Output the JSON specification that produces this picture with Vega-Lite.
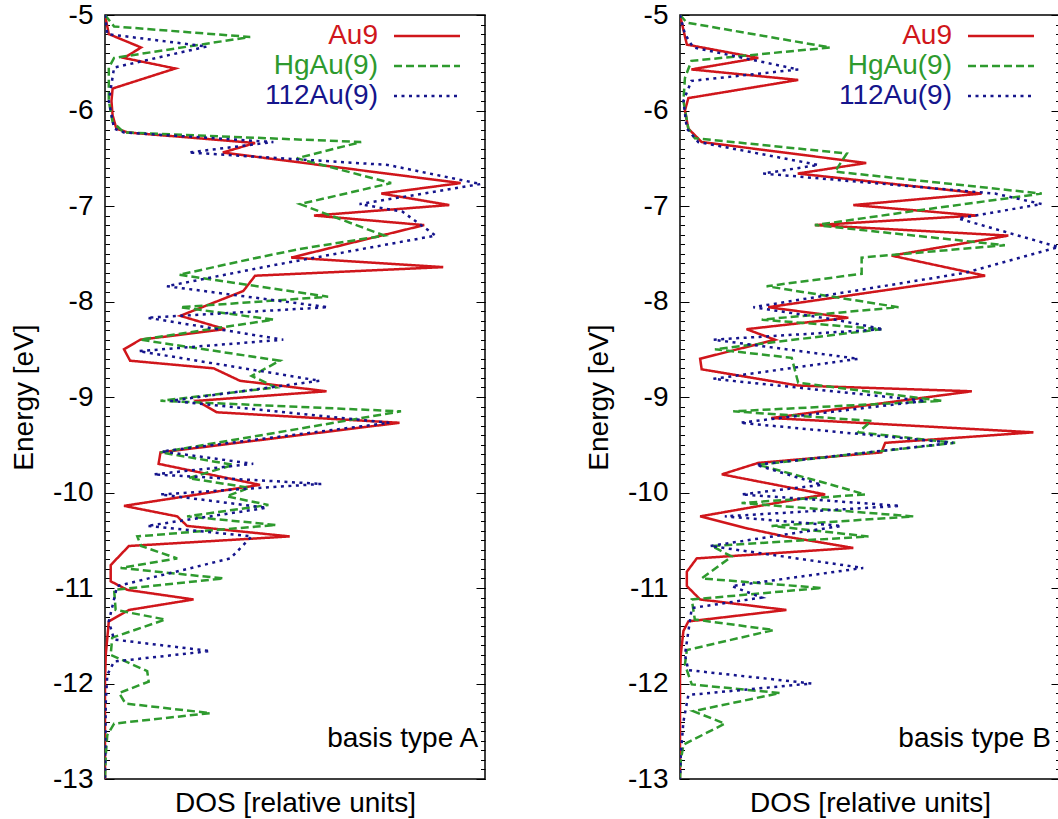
{
  "$schema": "https://vega.github.io/schema/vega-lite/v6.json",
  "background": "white",
  "padding": {"left": 9, "top": 0, "right": 0, "bottom": 0},
  "config": {
    "font": "Liberation Sans",
    "view": {"stroke": "black", "strokeWidth": 1.5},
    "axis": {"grid": false, "domain": false, "labelColor": "black", "titleColor": "black", "tickColor": "black", "tickWidth": 1, "labelFont": "Liberation Sans", "titleFont": "Liberation Sans", "labelFontSize": 28, "titleFontSize": 28, "titleFontWeight": "normal"},
    "axisX": {"title": "DOS [relative units]", "labels": false, "ticks": false, "domain": false, "titlePadding": 10}
  },
  "bounds": "flush",
  "spacing": 195,
  "resolve": {"scale": {"color": "independent", "strokeDash": "independent"}},
  "datasets": {
    "A": [
      {"series":"Au9","energy":-5,"dos":0},{"series":"Au9","energy":-5.2,"dos":1},{"series":"Au9","energy":-5.34,"dos":9.5},{"series":"Au9","energy":-5.45,"dos":5},{"series":"Au9","energy":-5.56,"dos":18.5},{"series":"Au9","energy":-5.77,"dos":2},{"series":"Au9","energy":-5.9,"dos":1.7},{"series":"Au9","energy":-6.05,"dos":2},{"series":"Au9","energy":-6.19,"dos":3},{"series":"Au9","energy":-6.23,"dos":6},{"series":"Au9","energy":-6.34,"dos":39.5},{"series":"Au9","energy":-6.44,"dos":31},{"series":"Au9","energy":-6.76,"dos":93.6},{"series":"Au9","energy":-6.87,"dos":72.7},{"series":"Au9","energy":-6.99,"dos":90.6},{"series":"Au9","energy":-7.1,"dos":55},{"series":"Au9","energy":-7.2,"dos":84},{"series":"Au9","energy":-7.54,"dos":49},{"series":"Au9","energy":-7.64,"dos":89},{"series":"Au9","energy":-7.73,"dos":39.5},{"series":"Au9","energy":-7.89,"dos":36.4},{"series":"Au9","energy":-8.15,"dos":19.8},{"series":"Au9","energy":-8.29,"dos":31.6},{"series":"Au9","energy":-8.4,"dos":9.3},{"series":"Au9","energy":-8.5,"dos":5},{"series":"Au9","energy":-8.62,"dos":6.6},{"series":"Au9","energy":-8.7,"dos":28.6},{"series":"Au9","energy":-8.83,"dos":35.5},{"series":"Au9","energy":-8.94,"dos":58.3},{"series":"Au9","energy":-9.04,"dos":24.2},{"series":"Au9","energy":-9.16,"dos":29.4},{"series":"Au9","energy":-9.27,"dos":77.5},{"series":"Au9","energy":-9.58,"dos":14.6},{"series":"Au9","energy":-9.7,"dos":14.1},{"series":"Au9","energy":-9.92,"dos":40.8},{"series":"Au9","energy":-10.14,"dos":5},{"series":"Au9","energy":-10.25,"dos":19},{"series":"Au9","energy":-10.35,"dos":21.6},{"series":"Au9","energy":-10.46,"dos":48.6},{"series":"Au9","energy":-10.56,"dos":6.3},{"series":"Au9","energy":-10.76,"dos":1.5},{"series":"Au9","energy":-10.93,"dos":1.5},{"series":"Au9","energy":-11.02,"dos":5.9},{"series":"Au9","energy":-11.12,"dos":23.3},{"series":"Au9","energy":-11.23,"dos":6.3},{"series":"Au9","energy":-11.35,"dos":1},{"series":"Au9","energy":-11.7,"dos":0.2},{"series":"Au9","energy":-11.98,"dos":0},{"series":"Au9","energy":-13,"dos":0},
      {"series":"HgAu(9)","energy":-5,"dos":0},{"series":"HgAu(9)","energy":-5.12,"dos":2.4},{"series":"HgAu(9)","energy":-5.23,"dos":38.2},{"series":"HgAu(9)","energy":-5.45,"dos":2.4},{"series":"HgAu(9)","energy":-5.55,"dos":1},{"series":"HgAu(9)","energy":-5.9,"dos":1},{"series":"HgAu(9)","energy":-6.12,"dos":2},{"series":"HgAu(9)","energy":-6.23,"dos":5},{"series":"HgAu(9)","energy":-6.33,"dos":67.4},{"series":"HgAu(9)","energy":-6.5,"dos":50.5},{"series":"HgAu(9)","energy":-6.76,"dos":75.3},{"series":"HgAu(9)","energy":-6.98,"dos":51.3},{"series":"HgAu(9)","energy":-7.31,"dos":73.5},{"series":"HgAu(9)","energy":-7.45,"dos":51.3},{"series":"HgAu(9)","energy":-7.55,"dos":39},{"series":"HgAu(9)","energy":-7.72,"dos":19.5},{"series":"HgAu(9)","energy":-7.95,"dos":58.7},{"series":"HgAu(9)","energy":-8.06,"dos":19.8},{"series":"HgAu(9)","energy":-8.19,"dos":44.3},{"series":"HgAu(9)","energy":-8.4,"dos":9.3},{"series":"HgAu(9)","energy":-8.62,"dos":46},{"series":"HgAu(9)","energy":-8.78,"dos":38.6},{"series":"HgAu(9)","energy":-8.9,"dos":45},{"series":"HgAu(9)","energy":-9.04,"dos":14.6},{"series":"HgAu(9)","energy":-9.15,"dos":77.9},{"series":"HgAu(9)","energy":-9.58,"dos":14.6},{"series":"HgAu(9)","energy":-9.71,"dos":33.8},{"series":"HgAu(9)","energy":-9.85,"dos":22},{"series":"HgAu(9)","energy":-9.95,"dos":38},{"series":"HgAu(9)","energy":-10.04,"dos":32},{"series":"HgAu(9)","energy":-10.13,"dos":43},{"series":"HgAu(9)","energy":-10.25,"dos":21.6},{"series":"HgAu(9)","energy":-10.34,"dos":45},{"series":"HgAu(9)","energy":-10.46,"dos":8.5},{"series":"HgAu(9)","energy":-10.56,"dos":9.5},{"series":"HgAu(9)","energy":-10.69,"dos":19},{"series":"HgAu(9)","energy":-10.79,"dos":4.1},{"series":"HgAu(9)","energy":-10.9,"dos":31.2},{"series":"HgAu(9)","energy":-11.02,"dos":2.4},{"series":"HgAu(9)","energy":-11.23,"dos":2.8},{"series":"HgAu(9)","energy":-11.33,"dos":15.9},{"series":"HgAu(9)","energy":-11.52,"dos":1.9},{"series":"HgAu(9)","energy":-11.7,"dos":1.5},{"series":"HgAu(9)","energy":-11.87,"dos":11.1},{"series":"HgAu(9)","energy":-11.98,"dos":11.5},{"series":"HgAu(9)","energy":-12.1,"dos":3.7},{"series":"HgAu(9)","energy":-12.21,"dos":5.4},{"series":"HgAu(9)","energy":-12.31,"dos":27.7},{"series":"HgAu(9)","energy":-12.42,"dos":2.4},{"series":"HgAu(9)","energy":-12.54,"dos":0.6},{"series":"HgAu(9)","energy":-12.75,"dos":0.2},{"series":"HgAu(9)","energy":-13,"dos":0},
      {"series":"112Au(9)","energy":-5,"dos":0},{"series":"112Au(9)","energy":-5.2,"dos":0.6},{"series":"112Au(9)","energy":-5.33,"dos":26.8},{"series":"112Au(9)","energy":-5.55,"dos":2.4},{"series":"112Au(9)","energy":-5.9,"dos":1},{"series":"112Au(9)","energy":-6.19,"dos":2.4},{"series":"112Au(9)","energy":-6.23,"dos":5},{"series":"112Au(9)","energy":-6.33,"dos":44.3},{"series":"112Au(9)","energy":-6.44,"dos":22},{"series":"112Au(9)","energy":-6.57,"dos":74.4},{"series":"112Au(9)","energy":-6.77,"dos":98.9},{"series":"112Au(9)","energy":-6.98,"dos":67},{"series":"112Au(9)","energy":-7.06,"dos":78.3},{"series":"112Au(9)","energy":-7.31,"dos":87},{"series":"112Au(9)","energy":-7.62,"dos":44.3},{"series":"112Au(9)","energy":-7.84,"dos":16.3},{"series":"112Au(9)","energy":-8.06,"dos":58.7},{"series":"112Au(9)","energy":-8.17,"dos":11.1},{"series":"112Au(9)","energy":-8.4,"dos":46.9},{"series":"112Au(9)","energy":-8.52,"dos":8.9},{"series":"112Au(9)","energy":-8.83,"dos":56.5},{"series":"112Au(9)","energy":-9.04,"dos":17.2},{"series":"112Au(9)","energy":-9.27,"dos":74.8},{"series":"112Au(9)","energy":-9.57,"dos":15},{"series":"112Au(9)","energy":-9.7,"dos":39},{"series":"112Au(9)","energy":-9.81,"dos":12.8},{"series":"112Au(9)","energy":-9.91,"dos":57},{"series":"112Au(9)","energy":-10.02,"dos":14.6},{"series":"112Au(9)","energy":-10.16,"dos":42.5},{"series":"112Au(9)","energy":-10.35,"dos":11.1},{"series":"112Au(9)","energy":-10.46,"dos":38.6},{"series":"112Au(9)","energy":-10.69,"dos":33},{"series":"112Au(9)","energy":-10.98,"dos":3.2},{"series":"112Au(9)","energy":-11.35,"dos":1},{"series":"112Au(9)","energy":-11.54,"dos":2.4},{"series":"112Au(9)","energy":-11.66,"dos":27.7},{"series":"112Au(9)","energy":-11.77,"dos":2.4},{"series":"112Au(9)","energy":-11.91,"dos":0.6},{"series":"112Au(9)","energy":-12.2,"dos":0.2},{"series":"112Au(9)","energy":-13,"dos":0}
    ],
    "B": [
      {"series":"Au9","energy":-5,"dos":0},{"series":"Au9","energy":-5.31,"dos":1.8},{"series":"Au9","energy":-5.45,"dos":20.6},{"series":"Au9","energy":-5.57,"dos":3},{"series":"Au9","energy":-5.68,"dos":31.1},{"series":"Au9","energy":-5.87,"dos":2.2},{"series":"Au9","energy":-6,"dos":1.3},{"series":"Au9","energy":-6.19,"dos":2.2},{"series":"Au9","energy":-6.33,"dos":5.7},{"series":"Au9","energy":-6.55,"dos":49},{"series":"Au9","energy":-6.66,"dos":31},{"series":"Au9","energy":-6.87,"dos":79.4},{"series":"Au9","energy":-6.99,"dos":45.6},{"series":"Au9","energy":-7.1,"dos":78},{"series":"Au9","energy":-7.2,"dos":35.5},{"series":"Au9","energy":-7.31,"dos":86.4},{"series":"Au9","energy":-7.52,"dos":55.7},{"series":"Au9","energy":-7.73,"dos":80.3},{"series":"Au9","energy":-8.06,"dos":23.2},{"series":"Au9","energy":-8.17,"dos":44.3},{"series":"Au9","energy":-8.29,"dos":17.5},{"series":"Au9","energy":-8.4,"dos":25},{"series":"Au9","energy":-8.6,"dos":5.3},{"series":"Au9","energy":-8.71,"dos":5.7},{"series":"Au9","energy":-8.88,"dos":31.1},{"series":"Au9","energy":-8.94,"dos":76.8},{"series":"Au9","energy":-9.22,"dos":24},{"series":"Au9","energy":-9.37,"dos":93},{"series":"Au9","energy":-9.48,"dos":54},{"series":"Au9","energy":-9.58,"dos":53},{"series":"Au9","energy":-9.69,"dos":20.6},{"series":"Au9","energy":-9.81,"dos":11},{"series":"Au9","energy":-10.02,"dos":38.2},{"series":"Au9","energy":-10.25,"dos":5.3},{"series":"Au9","energy":-10.37,"dos":17},{"series":"Au9","energy":-10.46,"dos":27.6},{"series":"Au9","energy":-10.58,"dos":45.6},{"series":"Au9","energy":-10.69,"dos":4.4},{"series":"Au9","energy":-10.83,"dos":1.8},{"series":"Au9","energy":-10.98,"dos":1.8},{"series":"Au9","energy":-11.12,"dos":5.3},{"series":"Au9","energy":-11.23,"dos":28},{"series":"Au9","energy":-11.35,"dos":2.2},{"series":"Au9","energy":-11.45,"dos":0.9},{"series":"Au9","energy":-11.7,"dos":0.2},{"series":"Au9","energy":-11.95,"dos":0},{"series":"Au9","energy":-13,"dos":0},
      {"series":"HgAu(9)","energy":-5,"dos":0},{"series":"HgAu(9)","energy":-5.08,"dos":1.8},{"series":"HgAu(9)","energy":-5.34,"dos":39.5},{"series":"HgAu(9)","energy":-5.48,"dos":3},{"series":"HgAu(9)","energy":-5.66,"dos":1.3},{"series":"HgAu(9)","energy":-5.9,"dos":0.9},{"series":"HgAu(9)","energy":-6.19,"dos":2.2},{"series":"HgAu(9)","energy":-6.29,"dos":3.9},{"series":"HgAu(9)","energy":-6.45,"dos":43.9},{"series":"HgAu(9)","energy":-6.64,"dos":40.8},{"series":"HgAu(9)","energy":-6.87,"dos":95.2},{"series":"HgAu(9)","energy":-7.05,"dos":62},{"series":"HgAu(9)","energy":-7.2,"dos":35.5},{"series":"HgAu(9)","energy":-7.41,"dos":85.5},{"series":"HgAu(9)","energy":-7.54,"dos":47.8},{"series":"HgAu(9)","energy":-7.71,"dos":47.8},{"series":"HgAu(9)","energy":-7.84,"dos":22.8},{"series":"HgAu(9)","energy":-8.06,"dos":57.5},{"series":"HgAu(9)","energy":-8.19,"dos":21.5},{"series":"HgAu(9)","energy":-8.29,"dos":53},{"series":"HgAu(9)","energy":-8.5,"dos":9.2},{"series":"HgAu(9)","energy":-8.59,"dos":29.4},{"series":"HgAu(9)","energy":-8.85,"dos":31.1},{"series":"HgAu(9)","energy":-9.04,"dos":68.9},{"series":"HgAu(9)","energy":-9.15,"dos":14},{"series":"HgAu(9)","energy":-9.25,"dos":50.4},{"series":"HgAu(9)","energy":-9.37,"dos":46.9},{"series":"HgAu(9)","energy":-9.48,"dos":72.4},{"series":"HgAu(9)","energy":-9.71,"dos":20.6},{"series":"HgAu(9)","energy":-9.9,"dos":38.2},{"series":"HgAu(9)","energy":-10.02,"dos":48.7},{"series":"HgAu(9)","energy":-10.11,"dos":16.2},{"series":"HgAu(9)","energy":-10.25,"dos":61.4},{"series":"HgAu(9)","energy":-10.35,"dos":24.1},{"series":"HgAu(9)","energy":-10.46,"dos":49.6},{"series":"HgAu(9)","energy":-10.56,"dos":8.3},{"series":"HgAu(9)","energy":-10.67,"dos":13.6},{"series":"HgAu(9)","energy":-10.9,"dos":5.7},{"series":"HgAu(9)","energy":-11,"dos":37.3},{"series":"HgAu(9)","energy":-11.12,"dos":3.1},{"series":"HgAu(9)","energy":-11.33,"dos":3.9},{"series":"HgAu(9)","energy":-11.44,"dos":24.6},{"series":"HgAu(9)","energy":-11.65,"dos":1.8},{"series":"HgAu(9)","energy":-11.8,"dos":1.3},{"series":"HgAu(9)","energy":-12.01,"dos":3.1},{"series":"HgAu(9)","energy":-12.1,"dos":26.3},{"series":"HgAu(9)","energy":-12.29,"dos":3.5},{"series":"HgAu(9)","energy":-12.42,"dos":11.8},{"series":"HgAu(9)","energy":-12.64,"dos":0.9},{"series":"HgAu(9)","energy":-12.81,"dos":0.2},{"series":"HgAu(9)","energy":-13,"dos":0},
      {"series":"112Au(9)","energy":-5,"dos":0},{"series":"112Au(9)","energy":-5.2,"dos":1.3},{"series":"112Au(9)","energy":-5.34,"dos":3.5},{"series":"112Au(9)","energy":-5.57,"dos":31.1},{"series":"112Au(9)","energy":-5.69,"dos":3},{"series":"112Au(9)","energy":-5.9,"dos":0.9},{"series":"112Au(9)","energy":-6.19,"dos":1.8},{"series":"112Au(9)","energy":-6.33,"dos":4.8},{"series":"112Au(9)","energy":-6.57,"dos":36.4},{"series":"112Au(9)","energy":-6.66,"dos":21.9},{"series":"112Au(9)","energy":-6.87,"dos":82.9},{"series":"112Au(9)","energy":-6.98,"dos":95.2},{"series":"112Au(9)","energy":-7.13,"dos":73.2},{"series":"112Au(9)","energy":-7.43,"dos":99.6},{"series":"112Au(9)","energy":-7.7,"dos":75},{"series":"112Au(9)","energy":-8.06,"dos":19.3},{"series":"112Au(9)","energy":-8.19,"dos":40.8},{"series":"112Au(9)","energy":-8.29,"dos":53.5},{"series":"112Au(9)","energy":-8.4,"dos":8.8},{"series":"112Au(9)","energy":-8.6,"dos":46.9},{"series":"112Au(9)","energy":-8.81,"dos":8.8},{"series":"112Au(9)","energy":-9.04,"dos":64.5},{"series":"112Au(9)","energy":-9.27,"dos":15.8},{"series":"112Au(9)","energy":-9.48,"dos":71.9},{"series":"112Au(9)","energy":-9.71,"dos":20},{"series":"112Au(9)","energy":-9.92,"dos":37.3},{"series":"112Au(9)","energy":-10.02,"dos":16.2},{"series":"112Au(9)","energy":-10.14,"dos":57.9},{"series":"112Au(9)","energy":-10.25,"dos":11.8},{"series":"112Au(9)","energy":-10.35,"dos":42.5},{"series":"112Au(9)","energy":-10.56,"dos":7.9},{"series":"112Au(9)","energy":-10.79,"dos":48.2},{"series":"112Au(9)","energy":-10.98,"dos":13.6},{"series":"112Au(9)","energy":-11.1,"dos":21.5},{"series":"112Au(9)","energy":-11.21,"dos":3.1},{"series":"112Au(9)","energy":-11.7,"dos":1.3},{"series":"112Au(9)","energy":-11.86,"dos":2.2},{"series":"112Au(9)","energy":-12,"dos":34.6},{"series":"112Au(9)","energy":-12.12,"dos":2.2},{"series":"112Au(9)","energy":-12.4,"dos":0.9},{"series":"112Au(9)","energy":-12.75,"dos":0.2},{"series":"112Au(9)","energy":-13,"dos":0}
    ]
  },
  "hconcat": [
    {
      "width": 380, "height": 764,
      "data": {"name": "A"},
      "layer": [
        {
          "mark": {"type": "line", "strokeWidth": 2.5, "clip": true},
          "encoding": {
            "x": {"field": "dos", "type": "quantitative", "scale": {"domain": [0, 100], "nice": false, "zero": true}, "title": "DOS [relative units]"},
            "y": {"field": "energy", "type": "quantitative", "scale": {"domain": [-13, -5], "nice": false, "zero": false},
                  "axis": {"orient": "left", "title": "Energy [eV]", "values": [-13,-12,-11,-10,-9,-8,-7,-6,-5], "labelExpr": "'' + datum.value", "tickSize": -9, "labelPadding": 21, "titlePadding": 14, "labelFlush": false, "labelOverlap": false}},
            "color": {"field": "series", "type": "nominal", "scale": {"domain": ["Au9", "HgAu(9)", "112Au(9)"], "range": ["#d0161b", "#2e9a2e", "#15158c"]},
                      "legend": {"orient": "none", "legendX": 308, "legendY": 7, "title": null, "symbolType": "M-3,0H3", "symbolSize": 484, "symbolStrokeWidth": 2.5, "labelFontSize": 28, "labelFont": "Liberation Sans", "labelAlign": "right", "labelOffset": -63, "labelLimit": 400, "rowPadding": 2, "padding": 0, "labelColor": {"expr": "datum.value === 'Au9' ? '#d0161b' : datum.value === 'HgAu(9)' ? '#2e9a2e' : '#15158c'"}}},
            "strokeDash": {"field": "series", "type": "nominal", "scale": {"domain": ["Au9", "HgAu(9)", "112Au(9)"], "range": [[1, 0], [8, 4], [3, 4.5]]},
                      "legend": {"orient": "none", "legendX": 308, "legendY": 7, "title": null, "symbolType": "M-3,0H3", "symbolSize": 484, "symbolStrokeWidth": 2.5, "labelFontSize": 28, "labelFont": "Liberation Sans", "labelAlign": "right", "labelOffset": -63, "labelLimit": 400, "rowPadding": 2, "padding": 0, "labelColor": {"expr": "datum.value === 'Au9' ? '#d0161b' : datum.value === 'HgAu(9)' ? '#2e9a2e' : '#15158c'"}}},
            "order": {"field": "energy", "type": "quantitative", "sort": "descending"}
          }
        },
        {
          "mark": {"type": "point", "opacity": 0},
          "encoding": {
            "x": {"field": "dos", "type": "quantitative", "title": "DOS [relative units]"},
            "y": {"field": "energy", "type": "quantitative", "axis": {"orient": "left", "title": null, "labels": false, "tickSize": -4.5, "values": [-13,-12.9,-12.8,-12.7,-12.6,-12.5,-12.4,-12.3,-12.2,-12.1,-12,-11.9,-11.8,-11.7,-11.6,-11.5,-11.4,-11.3,-11.2,-11.1,-11,-10.9,-10.8,-10.7,-10.6,-10.5,-10.4,-10.3,-10.2,-10.1,-10,-9.9,-9.8,-9.7,-9.6,-9.5,-9.4,-9.3,-9.2,-9.1,-9,-8.9,-8.8,-8.7,-8.6,-8.5,-8.4,-8.3,-8.2,-8.1,-8,-7.9,-7.8,-7.7,-7.6,-7.5,-7.4,-7.3,-7.2,-7.1,-7,-6.9,-6.8,-6.7,-6.6,-6.5,-6.4,-6.3,-6.2,-6.1,-6,-5.9,-5.8,-5.7,-5.6,-5.5,-5.4,-5.3,-5.2,-5.1,-5]}}
          }
        },
        {
          "mark": {"type": "point", "opacity": 0},
          "encoding": {
            "x": {"field": "dos", "type": "quantitative", "title": "DOS [relative units]"},
            "y": {"field": "energy", "type": "quantitative", "axis": {"orient": "right", "title": null, "labels": false, "tickSize": -9, "values": [-13,-12,-11,-10,-9,-8,-7,-6,-5]}}
          }
        },
        {
          "mark": {"type": "point", "opacity": 0},
          "encoding": {
            "x": {"field": "dos", "type": "quantitative", "title": "DOS [relative units]"},
            "y": {"field": "energy", "type": "quantitative", "axis": {"orient": "right", "title": null, "labels": false, "tickSize": -4.5, "values": [-13,-12.9,-12.8,-12.7,-12.6,-12.5,-12.4,-12.3,-12.2,-12.1,-12,-11.9,-11.8,-11.7,-11.6,-11.5,-11.4,-11.3,-11.2,-11.1,-11,-10.9,-10.8,-10.7,-10.6,-10.5,-10.4,-10.3,-10.2,-10.1,-10,-9.9,-9.8,-9.7,-9.6,-9.5,-9.4,-9.3,-9.2,-9.1,-9,-8.9,-8.8,-8.7,-8.6,-8.5,-8.4,-8.3,-8.2,-8.1,-8,-7.9,-7.8,-7.7,-7.6,-7.5,-7.4,-7.3,-7.2,-7.1,-7,-6.9,-6.8,-6.7,-6.6,-6.5,-6.4,-6.3,-6.2,-6.1,-6,-5.9,-5.8,-5.7,-5.6,-5.5,-5.4,-5.3,-5.2,-5.1,-5]}}
          }
        },
        {
          "data": {"values": [{"label": "basis type A"}]},
          "mark": {"type": "text", "align": "right", "baseline": "alphabetic", "fontSize": 28, "font": "Liberation Sans", "color": "black"},
          "encoding": {
            "text": {"field": "label"},
            "x": {"datum": 98.2, "type": "quantitative", "title": "DOS [relative units]"},
            "y": {"datum": -12.67, "type": "quantitative", "axis": null}
          }
        }
      ],
      "resolve": {"axis": {"y": "independent"}}
    },
    {
      "width": 380, "height": 764,
      "data": {"name": "B"},
      "layer": [
        {
          "mark": {"type": "line", "strokeWidth": 2.5, "clip": true},
          "encoding": {
            "x": {"field": "dos", "type": "quantitative", "scale": {"domain": [0, 100], "nice": false, "zero": true}, "title": "DOS [relative units]"},
            "y": {"field": "energy", "type": "quantitative", "scale": {"domain": [-13, -5], "nice": false, "zero": false},
                  "axis": {"orient": "left", "title": "Energy [eV]", "values": [-13,-12,-11,-10,-9,-8,-7,-6,-5], "labelExpr": "'' + datum.value", "tickSize": -9, "labelPadding": 21, "titlePadding": 14, "labelFlush": false, "labelOverlap": false}},
            "color": {"field": "series", "type": "nominal", "scale": {"domain": ["Au9", "HgAu(9)", "112Au(9)"], "range": ["#d0161b", "#2e9a2e", "#15158c"]},
                      "legend": {"orient": "none", "legendX": 307, "legendY": 7, "title": null, "symbolType": "M-3,0H3", "symbolSize": 484, "symbolStrokeWidth": 2.5, "labelFontSize": 28, "labelFont": "Liberation Sans", "labelAlign": "right", "labelOffset": -63, "labelLimit": 400, "rowPadding": 2, "padding": 0, "labelColor": {"expr": "datum.value === 'Au9' ? '#d0161b' : datum.value === 'HgAu(9)' ? '#2e9a2e' : '#15158c'"}}},
            "strokeDash": {"field": "series", "type": "nominal", "scale": {"domain": ["Au9", "HgAu(9)", "112Au(9)"], "range": [[1, 0], [8, 4], [3, 4.5]]},
                      "legend": {"orient": "none", "legendX": 307, "legendY": 7, "title": null, "symbolType": "M-3,0H3", "symbolSize": 484, "symbolStrokeWidth": 2.5, "labelFontSize": 28, "labelFont": "Liberation Sans", "labelAlign": "right", "labelOffset": -63, "labelLimit": 400, "rowPadding": 2, "padding": 0, "labelColor": {"expr": "datum.value === 'Au9' ? '#d0161b' : datum.value === 'HgAu(9)' ? '#2e9a2e' : '#15158c'"}}},
            "order": {"field": "energy", "type": "quantitative", "sort": "descending"}
          }
        },
        {
          "mark": {"type": "point", "opacity": 0},
          "encoding": {
            "x": {"field": "dos", "type": "quantitative", "title": "DOS [relative units]"},
            "y": {"field": "energy", "type": "quantitative", "axis": {"orient": "left", "title": null, "labels": false, "tickSize": -4.5, "values": [-13,-12.9,-12.8,-12.7,-12.6,-12.5,-12.4,-12.3,-12.2,-12.1,-12,-11.9,-11.8,-11.7,-11.6,-11.5,-11.4,-11.3,-11.2,-11.1,-11,-10.9,-10.8,-10.7,-10.6,-10.5,-10.4,-10.3,-10.2,-10.1,-10,-9.9,-9.8,-9.7,-9.6,-9.5,-9.4,-9.3,-9.2,-9.1,-9,-8.9,-8.8,-8.7,-8.6,-8.5,-8.4,-8.3,-8.2,-8.1,-8,-7.9,-7.8,-7.7,-7.6,-7.5,-7.4,-7.3,-7.2,-7.1,-7,-6.9,-6.8,-6.7,-6.6,-6.5,-6.4,-6.3,-6.2,-6.1,-6,-5.9,-5.8,-5.7,-5.6,-5.5,-5.4,-5.3,-5.2,-5.1,-5]}}
          }
        },
        {
          "mark": {"type": "point", "opacity": 0},
          "encoding": {
            "x": {"field": "dos", "type": "quantitative", "title": "DOS [relative units]"},
            "y": {"field": "energy", "type": "quantitative", "axis": {"orient": "right", "title": null, "labels": false, "tickSize": -9, "values": [-13,-12,-11,-10,-9,-8,-7,-6,-5]}}
          }
        },
        {
          "mark": {"type": "point", "opacity": 0},
          "encoding": {
            "x": {"field": "dos", "type": "quantitative", "title": "DOS [relative units]"},
            "y": {"field": "energy", "type": "quantitative", "axis": {"orient": "right", "title": null, "labels": false, "tickSize": -4.5, "values": [-13,-12.9,-12.8,-12.7,-12.6,-12.5,-12.4,-12.3,-12.2,-12.1,-12,-11.9,-11.8,-11.7,-11.6,-11.5,-11.4,-11.3,-11.2,-11.1,-11,-10.9,-10.8,-10.7,-10.6,-10.5,-10.4,-10.3,-10.2,-10.1,-10,-9.9,-9.8,-9.7,-9.6,-9.5,-9.4,-9.3,-9.2,-9.1,-9,-8.9,-8.8,-8.7,-8.6,-8.5,-8.4,-8.3,-8.2,-8.1,-8,-7.9,-7.8,-7.7,-7.6,-7.5,-7.4,-7.3,-7.2,-7.1,-7,-6.9,-6.8,-6.7,-6.6,-6.5,-6.4,-6.3,-6.2,-6.1,-6,-5.9,-5.8,-5.7,-5.6,-5.5,-5.4,-5.3,-5.2,-5.1,-5]}}
          }
        },
        {
          "data": {"values": [{"label": "basis type B"}]},
          "mark": {"type": "text", "align": "right", "baseline": "alphabetic", "fontSize": 28, "font": "Liberation Sans", "color": "black"},
          "encoding": {
            "text": {"field": "label"},
            "x": {"datum": 97.6, "type": "quantitative", "title": "DOS [relative units]"},
            "y": {"datum": -12.67, "type": "quantitative", "axis": null}
          }
        }
      ],
      "resolve": {"axis": {"y": "independent"}}
    }
  ]
}
